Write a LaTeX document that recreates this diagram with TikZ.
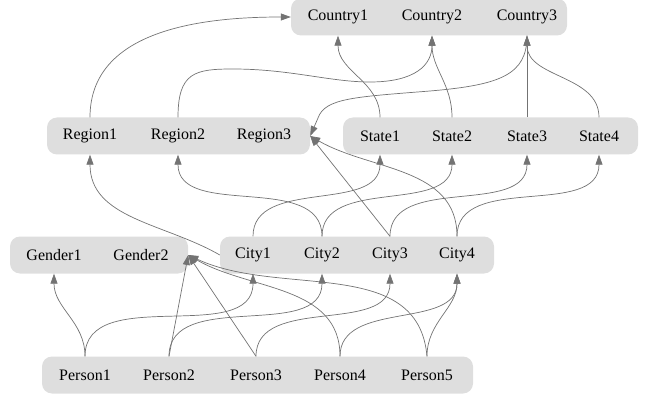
\documentclass[tikz,border=0pt]{standalone}
\usepackage{fontspec}
\setmainfont{Liberation Serif}
\usetikzlibrary{arrows.meta}

\tikzset{
  cluster/.style={fill=black!13, rounded corners=10pt, minimum height=37pt, inner sep=0pt},
  field/.style={inner sep=0pt, minimum height=37pt, font=\fontsize{16}{19}\selectfont},
  link/.style={draw=black!55, line width=0.7pt, -{Triangle[length=10pt,width=7pt]}},
}

\begin{document}
\begin{tikzpicture}[x=1pt,y=1pt]
\useasboundingbox (0,-398) rectangle (645,0);

%% clusters
\node[cluster, minimum width=276pt] (countries) at (429,-17) {};
\node[cluster, minimum width=263pt] (regions) at (178.5,-136) {};
\node[cluster, minimum width=295pt] (states) at (490.5,-136) {};
\node[cluster, minimum width=178pt] (genders) at (99,-255) {};
\node[cluster, minimum width=274pt] (cities) at (357,-255) {};
\node[cluster, minimum width=431pt] (persons) at (257.5,-375) {};

%% fields
\node[field] (c1) at (338,-17) {Country1};
\node[field] (c2) at (432,-17) {Country2};
\node[field] (c3) at (527,-17) {Country3};

\node[field] (r1) at (90,-136) {Region1};
\node[field] (r2) at (178,-136) {Region2};
\node[field] (r3) at (264,-136) {Region3};

\node[field] (s1) at (380,-136) {State1};
\node[field] (s2) at (452,-136) {State2};
\node[field] (s3) at (527,-136) {State3};
\node[field] (s4) at (599,-136) {State4};

\node[field] (g1) at (54,-255) {Gender1};
\node[field] (g2) at (141,-255) {Gender2};

\node[field] (t1) at (253,-255) {City1};
\node[field] (t2) at (322,-255) {City2};
\node[field] (t3) at (390,-255) {City3};
\node[field] (t4) at (457,-255) {City4};

\node[field] (p1) at (85,-375) {Person1};
\node[field] (p2) at (169,-375) {Person2};
\node[field] (p3) at (256,-375) {Person3};
\node[field] (p4) at (340,-375) {Person4};
\node[field] (p5) at (427,-375) {Person5};

%% region/state -> country
\draw[link] (r1.north) to[out=90,in=180] (countries.west);     %% r1 c1
\draw[link] (r2.north) .. controls +(0,45) and (195,-69) .. (233,-69)
   .. controls (290,-69) and (330,-82) .. (370,-82)
   .. controls (415,-82) and (432,-65) .. (c2.south);     %% r2 c2
\draw[link] (c3.south) .. controls (527,-75) and (500,-85) .. (430,-91)
   .. controls (355,-97) and (325,-98) .. (318,-118) -- (regions.east);     %% c3 r3
\draw[link] (s1.north) to[out=90,in=-90] (c1.south);     %% s1 c1
\draw[link] (s2.north) to[out=90,in=-90] (c2.south);     %% s2 c2
\draw[link] (s3.north) -- (c3.south);     %% s3 c3
\draw[link] (s4.north) to[out=90,in=-90] (c3.south);     %% s4 c3

%% city -> region/state
\draw[link] (cities.west) to[out=150,in=-90] (r1.south);     %% t1 r1
\draw[link] (t1.north) to[out=90,in=-90] (s1.south);     %% t1 s1
\draw[link] (t2.north) to[out=90,in=-90] (r2.south);     %% t2 r2
\draw[link] (t2.north) to[out=90,in=-90] (s2.south);     %% t2 s2
\draw[link] (t3.north) -- (regions.east);     %% t3 r3
\draw[link] (t3.north) to[out=90,in=-90] (s3.south);     %% t3 s3
\draw[link] (t4.north) to[out=90,in=-30] (regions.east);     %% t4 r3
\draw[link] (t4.north) to[out=90,in=-90] (s4.south);     %% t4 s4

%% person -> gender/city
\draw[link] (p1.north) to[out=90,in=-90] (g1.south);     %% p1 g1
\draw[link] (p1.north) to[out=90,in=-90] (t1.south);     %% p1 t1
\draw[link] (p2.north) -- (genders.east);     %% p2 g2
\draw[link] (p2.north) to[out=90,in=-90] (t2.south);     %% p2 t2
\draw[link] (p3.north) -- (genders.east);     %% p3 g2
\draw[link] (p3.north) to[out=90,in=-90] (t3.south);     %% p3 t3
\draw[link] (p4.north) to[out=90,in=-30] (genders.east);     %% p4 g2
\draw[link] (p4.north) to[out=90,in=-90] (t4.south);     %% p4 t4
\draw[link] (p5.north) to[out=95,in=-25] (genders.east);     %% p5 g2
\draw[link] (p5.north) to[out=90,in=-90] (t4.south);     %% p5 t4
\end{tikzpicture}
\end{document}
